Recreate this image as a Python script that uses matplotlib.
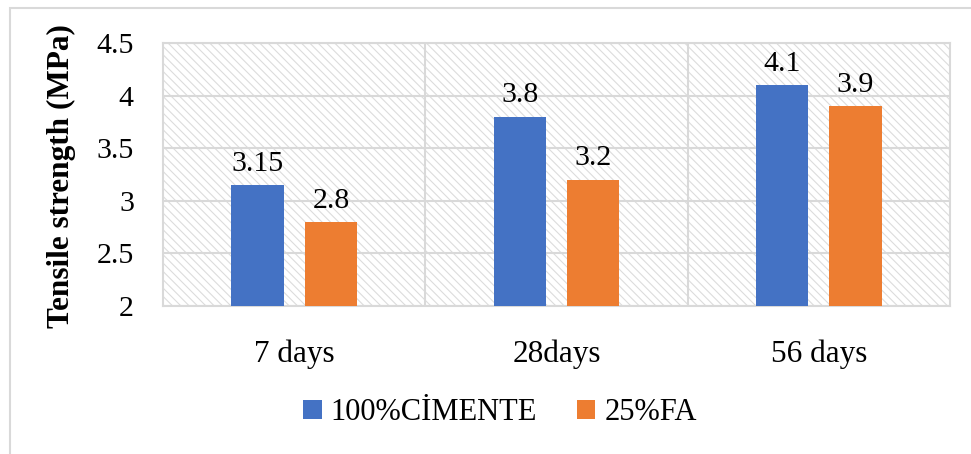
import matplotlib
matplotlib.use("Agg")
import matplotlib.pyplot as plt
from matplotlib.patches import Rectangle
import numpy as np

categories = ["7 days", "28days", "56 days"]
series_names = ["100%CİMENTE", "25%FA"]
cement = [3.15, 3.8, 4.1]
fa = [2.8, 3.2, 3.9]
yticks = [2, 2.5, 3, 3.5, 4, 4.5]
ytick_labels = ["2", "2.5", "3", "3.5", "4", "4.5"]

plt.rcParams['font.family'] = ['Liberation Serif', 'DejaVu Serif']
plt.rcParams['hatch.color'] = '#dcdcdc'
plt.rcParams['hatch.linewidth'] = 0.8

fig = plt.figure(figsize=(9.71, 4.54), dpi=100)
# outer frame
fig.patches.append(Rectangle((10/971, -0.1), 1.2, 1 - 8/454 + 0.1, transform=fig.transFigure,
                             fill=False, edgecolor='#d9d9d9', linewidth=1.5))

ax = fig.add_axes([163/971, 1 - 306/454, 787/971, 263/454])
ax.set_xlim(-0.5, 2.5)
ax.set_ylim(2, 4.5)

# hatched background
ax.add_patch(Rectangle((0, 0), 1, 1, transform=ax.transAxes, facecolor='white',
                       edgecolor='#dcdcdc', hatch='\\\\\\\\', linewidth=0, zorder=0))

x = np.arange(len(categories))
w = 0.2
off = 0.14
colors = ['#4472C4', '#ED7D31']
b1 = ax.bar(x - off, [v - 2 for v in cement], w, bottom=2, color=colors[0], label=series_names[0], zorder=3)
b2 = ax.bar(x + off, [v - 2 for v in fa], w, bottom=2, color=colors[1], label=series_names[1], zorder=3)

for xi, v in zip(x - off, cement):
    ax.annotate(f"{v:g}", (xi, v), xytext=(0, 6), textcoords='offset points',
                ha='center', va='bottom', fontsize=21.5)
for xi, v in zip(x + off, fa):
    ax.annotate(f"{v:g}", (xi, v), xytext=(0, 6), textcoords='offset points',
                ha='center', va='bottom', fontsize=21.5)

ax.set_yticks(yticks)
ax.set_yticklabels(ytick_labels, fontsize=21.5)
ax.set_xticks(x)
ax.set_xticklabels(categories, fontsize=22.5)
ax.tick_params(axis='y', length=0, pad=21)
ax.tick_params(axis='x', length=0, pad=24)

for y in yticks:
    ax.axhline(y, color='#d9d9d9', linewidth=1.5, zorder=1)
for xv in [0.5, 1.5]:
    ax.axvline(xv, color='#d9d9d9', linewidth=1.5, zorder=1)
for s in ax.spines.values():
    s.set_color('#d9d9d9')
    s.set_linewidth(1.5)

fig.text(61/971, 1 - 176/454, "Tensile strength (MPa)", rotation=90, ha='center', va='center',
         fontsize=22.5, fontweight='bold')

fig.legend(handles=[b1, b2], loc='center', bbox_to_anchor=(500/971, 1 - 413/454),
           ncol=2, frameon=False, fontsize=22, handlelength=0.6, handleheight=0.6,
           handletextpad=0.3, columnspacing=1.3)

fig.savefig("out.png", dpi=100)
